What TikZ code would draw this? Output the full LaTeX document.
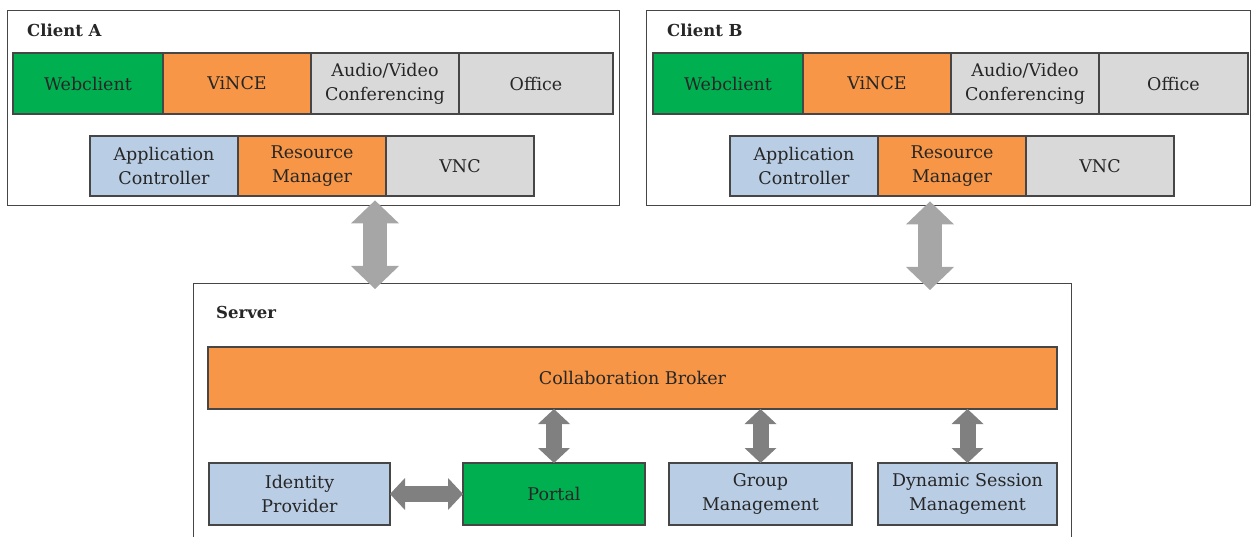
\documentclass[tikz,border=0pt]{standalone}
\usepackage{fontspec}
\setmainfont{DejaVu Serif}
\usepackage{xcolor}
\usetikzlibrary{shapes,arrows.meta,positioning}

\definecolor{webGreen}{RGB}{0,176,80}
\definecolor{vinceOrange}{RGB}{247,150,70}
\definecolor{paleGray}{RGB}{217,217,217}
\definecolor{paleBlue}{RGB}{185,205,229}
\definecolor{boxEdge}{RGB}{70,70,70}
\definecolor{linkGray}{RGB}{166,166,166}
\definecolor{darkLink}{RGB}{128,128,128}

\begin{document}
\begin{tikzpicture}[x=1pt, y=-1pt,
    block/.style={draw=boxEdge, line width=1.4pt, inner sep=2pt, outer sep=0pt, align=center, text=black!85,
        font=\fontsize{17.5}{24}\selectfont, minimum width=148pt, minimum height=61pt},
    web/.style={block, fill=webGreen},
    vince/.style={block, fill=vinceOrange},
    tool/.style={block, fill=paleGray},
    ctrl/.style={block, fill=paleBlue},
    frame/.style={draw=boxEdge, line width=1.4pt, inner sep=0pt, anchor=north west},
    caption/.style={font=\fontsize{16.5}{20}\selectfont\bfseries, text=black!85, anchor=west, inner sep=0pt},
    biglink/.style={draw=linkGray, line width=24pt,
        {Triangle[length=23pt,width=48pt,line width=0pt 0]}-{Triangle[length=23pt,width=48pt,line width=0pt 0]}},
    link/.style={draw=darkLink, line width=16pt,
        {Triangle[length=15pt,width=32pt,line width=0pt 0]}-{Triangle[length=15pt,width=32pt,line width=0pt 0]}}
]
    \clip (0,0) rectangle (1251,537);

    % client A
    \node (clientA) [frame, minimum width=612pt, minimum height=195pt] at (7,10) {};
    \node (labelA) [caption] at (27,30) {Client A};
    \node (webA) [web, anchor=north west, minimum width=150pt] at (13,53) {Webclient};
    \node (vinceA) [vince, right=0pt of webA] {ViNCE};
    \node (avA) [tool, right=0pt of vinceA] {Audio/Video\\Conferencing};
    \node (officeA) [tool, right=0pt of avA, minimum width=154pt] {Office};
    \node (appA) [ctrl, anchor=north west, minimum height=60pt] at (90,136) {Application\\Controller};
    \node (resA) [vince, right=0pt of appA, minimum height=60pt] {Resource\\Manager};
    \node (vncA) [tool, right=0pt of resA, minimum height=60pt] {VNC};

    % client B
    \node (clientB) [frame, minimum width=604pt, minimum height=195pt] at (646,10) {};
    \node (labelB) [caption] at (667,30) {Client B};
    \node (webB) [web, anchor=north west, minimum width=150pt] at (653,53) {Webclient};
    \node (vinceB) [vince, right=0pt of webB] {ViNCE};
    \node (avB) [tool, right=0pt of vinceB] {Audio/Video\\Conferencing};
    \node (officeB) [tool, right=0pt of avB, minimum width=149pt] {Office};
    \node (appB) [ctrl, anchor=north west, minimum height=60pt] at (730,136) {Application\\Controller};
    \node (resB) [vince, right=0pt of appB, minimum height=60pt] {Resource\\Manager};
    \node (vncB) [tool, right=0pt of resB, minimum height=60pt] {VNC};

    % server
    \node (server) [frame, minimum width=878pt, minimum height=270pt] at (193,283) {};
    \node (labelS) [caption] at (216,312) {Server};
    \node (broker) [vince, anchor=north west, minimum width=849pt, minimum height=62pt] at (208,347) {Collaboration Broker};
    \node (idp) [ctrl, anchor=north west, minimum width=181pt, minimum height=62pt] at (209,463) {Identity\\Provider};
    \node (portal) [web, anchor=north west, minimum width=182pt, minimum height=62pt] at (463,463) {Portal};
    \node (group) [ctrl, anchor=north west, minimum width=183pt, minimum height=62pt] at (669,463) {Group\\Management};
    \node (dsm) [ctrl, anchor=north west, minimum width=179pt, minimum height=62pt] at (878,463) {Dynamic Session\\Management};

    \draw[biglink] ([xshift=368pt,yshift=6pt]clientA.south west) -- ([xshift=182pt,yshift=-6pt]server.north west);
    \draw[biglink] ([xshift=284pt,yshift=5pt]clientB.south west) -- ([xshift=737pt,yshift=-7pt]server.north west);
    \draw[link] (broker.south -| portal.north) -- (portal.north);
    \draw[link] (broker.south -| group.north) -- (group.north);
    \draw[link] (broker.south -| dsm.north) -- (dsm.north);
    \draw[link] (idp) -- (portal);

\end{tikzpicture}
\end{document}
